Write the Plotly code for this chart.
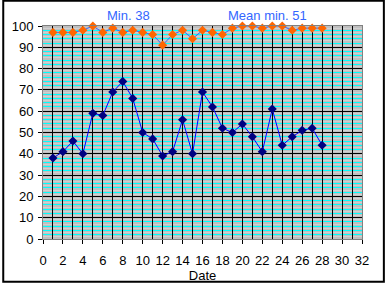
import plotly.graph_objects as go

days = list(range(1, 29))
max_vals = [97, 97, 97, 98, 100, 97, 99, 97, 98, 97, 96, 91, 96, 98, 94, 98, 97, 96, 99, 100,
            100, 99, 100, 100, 98, 99, 99, 99]
min_vals = [38, 41, 46, 40, 59, 58, 69, 74, 66, 50, 47, 39, 41, 56, 40, 69, 62, 52, 50, 54,
            48, 41, 61, 44, 48, 51, 52, 44]
x_ticks = list(range(0, 33, 2))
y_ticks = list(range(0, 101, 10))
cyan_vals = [v for v in range(2, 100, 2) if v % 10 != 0]
light_vals = list(range(1, 100, 2))

font = "Liberation Sans, Arial, sans-serif"

fig = go.Figure()
# helper (empty) traces so the overlay axes exist
fig.add_trace(go.Scatter(x=[None], y=[None], yaxis="y2", showlegend=False, hoverinfo="skip"))
fig.add_trace(go.Scatter(x=[None], y=[None], xaxis="x2", yaxis="y3", showlegend=False, hoverinfo="skip"))
fig.add_trace(go.Scatter(x=days, y=max_vals, mode="lines+markers",
                         line=dict(color="#3366ff", width=1),
                         marker=dict(symbol="diamond", size=7, color="#ff6600"),
                         cliponaxis=False, showlegend=False))
fig.add_trace(go.Scatter(x=days, y=min_vals, mode="lines+markers",
                         line=dict(color="#0000ff", width=1),
                         marker=dict(symbol="diamond", size=7, color="#000080"),
                         cliponaxis=False, showlegend=False))

fig.update_layout(
    width=386, height=291,
    margin=dict(l=41, r=24, t=26, b=46),
    paper_bgcolor="white",
    plot_bgcolor="#c0c0c0",
    font=dict(family=font, size=13, color="black"),
    xaxis=dict(range=[0, 32], tickvals=x_ticks, ticks="outside", ticklen=4, tickcolor="black",
               showgrid=False, zeroline=False, ticklabelstandoff=5,
               showline=True, linecolor="#808080", mirror=True,
               title=dict(text="Date", font=dict(size=13), standoff=2),
               tickfont=dict(size=13)),
    xaxis2=dict(range=[0, 32], overlaying="x", anchor="y3", dtick=1, showticklabels=False,
                ticks="", showgrid=True, gridcolor="black", gridwidth=1, zeroline=False),
    yaxis=dict(range=[0, 100], tickvals=y_ticks, ticks="outside", ticklen=4, tickcolor="black",
               showgrid=True, gridcolor="black", gridwidth=1, zeroline=False, ticklabelstandoff=2,
               minor=dict(tickvals=cyan_vals, showgrid=True, gridcolor="#00ffff", gridwidth=1),
               showline=True, linecolor="#808080", mirror=True,
               tickfont=dict(size=13)),
    yaxis2=dict(range=[0, 100], overlaying="y", tickvals=light_vals, showticklabels=False,
                showgrid=True, gridcolor="#d0d0d0", gridwidth=1, zeroline=False, ticks=""),
    yaxis3=dict(range=[0, 100], overlaying="y", anchor="x2", showticklabels=False,
                showgrid=False, zeroline=False, ticks=""),
    shapes=[dict(type="rect", xref="paper", yref="paper", x0=-40/321, x1=(384-41)/321,
                 y0=-(289-245)/219, y1=(245)/219, line=dict(color="black", width=2),
                 fillcolor="rgba(0,0,0,0)", layer="below")],
    annotations=[
        dict(text="Min. 38", xref="paper", yref="paper", x=(127-41)/321, y=(245-15)/219,
             showarrow=False, font=dict(color="#3366ff", size=13), xanchor="center", yanchor="middle"),
        dict(text="Mean min. 51", xref="paper", yref="paper", x=(267-41)/321, y=(245-15)/219,
             showarrow=False, font=dict(color="#3366ff", size=13), xanchor="center", yanchor="middle"),
    ],
)

fig.write_html("out.html")
